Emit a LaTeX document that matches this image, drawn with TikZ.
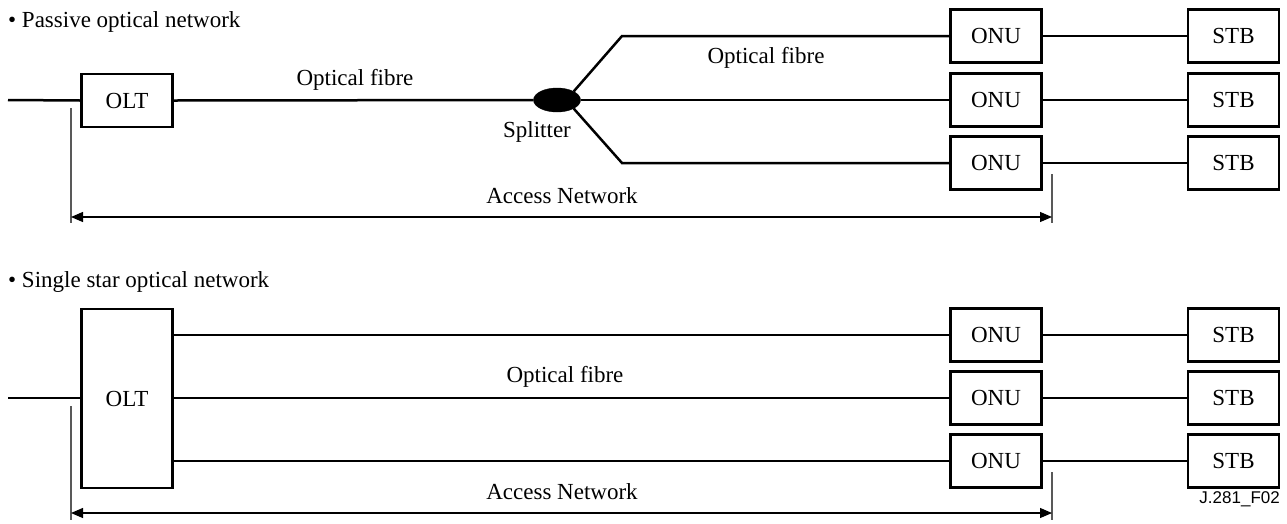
\documentclass[tikz,border=0pt]{standalone}
\usepackage{fontspec}
\setmainfont{Liberation Serif}
\newfontfamily\labelsans{Liberation Sans}
\usetikzlibrary{arrows.meta,shapes.geometric}
\begin{document}
\begin{tikzpicture}[x=1pt,y=-1pt,
  every node/.style={font=\fontsize{23}{27}\selectfont},
  unit/.style={draw,line width=2.3pt,minimum width=91pt,minimum height=53pt,inner sep=0pt},
  fibre/.style={line width=2.5pt},
  dimline/.style={line width=1.2pt,gray!70!black},
  dimarrow/.style={line width=1.2pt,{Triangle[length=12pt,width=10pt]}-{Triangle[length=12pt,width=10pt]}},
  txt/.style={inner sep=0pt}]
\useasboundingbox (0,0) rectangle (1287,523);

% ---------- Passive optical network ----------
\node[txt,anchor=west] (t1) at (8,21.5) {\textbullet\ Passive optical network};
\node[unit] (olt1) at (127,100.5) {OLT};
\node[draw,fill=black,ellipse,minimum width=47pt,minimum height=24pt,inner sep=0pt] (spl) at (557,100) {};
\node[unit] (onu1) at (996,36) {ONU};
\node[unit] (onu2) at (996,100) {ONU};
\node[unit] (onu3) at (996,163) {ONU};
\node[unit] (stb1) at (1233.5,36) {STB};
\node[unit] (stb2) at (1233.5,100) {STB};
\node[unit] (stb3) at (1233.5,163) {STB};
\coordinate (in1) at (8,100);
\coordinate (b1) at (622,36);
\coordinate (b3) at (622,163);
\draw[fibre] (in1) -- (olt1.west);
\draw[fibre] (olt1.east) -- (spl.west);
\draw[fibre] (spl.north east) -- (b1) -- (onu1.west);
\draw[fibre] (spl.east) -- (onu2.west);
\draw[fibre] (spl.south east) -- (b3) -- (onu3.west);
\draw[fibre] (onu1.east) -- (stb1.west);
\draw[fibre] (onu2.east) -- (stb2.west);
\draw[fibre] (onu3.east) -- (stb3.west);
\node[txt] (lf1) at (355,80) {Optical fibre};
\node[txt] (lf2) at (766,58) {Optical fibre};
\node[txt] (lsp) at (537,132) {Splitter};
\coordinate (d1a) at (71,108);
\coordinate (d1b) at (71,223);
\coordinate (d1c) at (1052,174);
\coordinate (d1d) at (1052,223);
\draw[dimline] (d1a) -- (d1b);
\draw[dimline] (d1c) -- (d1d);
\draw[dimarrow] (71,217) -- (1052,217);
\node[txt] (an1) at (562,196) {Access Network};

% ---------- Single star optical network ----------
\node[txt,anchor=west] (t2) at (8,282) {\textbullet\ Single star optical network};
\node[unit,minimum height=179pt] (olt2) at (127,398.5) {OLT};
\node[unit] (onu4) at (996,335) {ONU};
\node[unit] (onu5) at (996,398) {ONU};
\node[unit] (onu6) at (996,461) {ONU};
\node[unit] (stb4) at (1233.5,335) {STB};
\node[unit] (stb5) at (1233.5,398) {STB};
\node[unit] (stb6) at (1233.5,461) {STB};
\coordinate (in2) at (8,398);
\draw[fibre] (in2) -- (olt2.west |- in2);
\draw[fibre] (olt2.east |- onu4.west) -- (onu4.west);
\draw[fibre] (olt2.east |- onu5.west) -- (onu5.west);
\draw[fibre] (olt2.east |- onu6.west) -- (onu6.west);
\draw[fibre] (onu4.east) -- (stb4.west);
\draw[fibre] (onu5.east) -- (stb5.west);
\draw[fibre] (onu6.east) -- (stb6.west);
\node[txt] (lf3) at (565,377) {Optical fibre};
\coordinate (d2a) at (71,406);
\coordinate (d2b) at (71,520);
\coordinate (d2c) at (1052,472);
\coordinate (d2d) at (1052,520);
\draw[dimline] (d2a) -- (d2b);
\draw[dimline] (d2c) -- (d2d);
\draw[dimarrow] (71,513) -- (1052,513);
\node[txt] (an2) at (562,492) {Access Network};

\node[txt,anchor=east,font=\labelsans\fontsize{17}{19}\selectfont] (fig) at (1280,499) {J.281\_F02};
\end{tikzpicture}
\end{document}
